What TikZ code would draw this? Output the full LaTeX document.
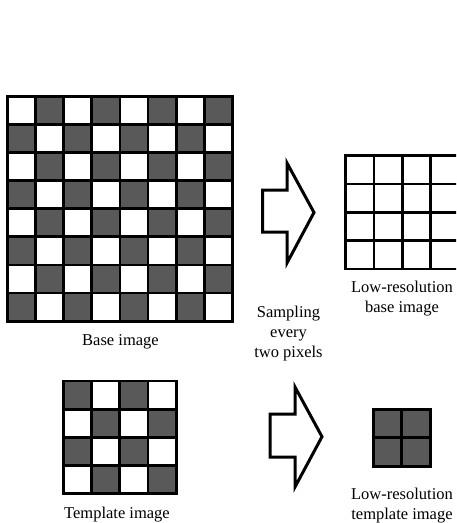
\documentclass[tikz,border=0pt]{standalone}
\usepackage{fontspec}
\setmainfont{Liberation Serif}
\definecolor{cellgray}{HTML}{595959}
\tikzset{
  gridline/.style={line width=2.8pt, line cap=rect},
  darkcell/.style={fill=cellgray},
  bigarrow/.style={draw=black, line width=3pt, fill=white, line join=miter},
  caption/.style={align=center, font=\fontsize{16.5}{20}\selectfont, inner sep=0pt}
}
\begin{document}
\begin{tikzpicture}[x=1pt,y=-1pt]
\useasboundingbox (0,0) rectangle (456,523);
\clip (0,0) rectangle (456,523);
\fill[white] (0,0) rectangle (456,523);
% base image 8x8, top-left white: dark where row+col is odd
\foreach \row in {0,...,7} {
  \foreach \col in {0,...,7} {
    \pgfmathtruncatemacro\cellsum{\row+\col}
    \ifodd\cellsum
      \fill[darkcell] (7.5+\col*28.1,96.3+\row*28.1) rectangle ++(28.1,28.1);
    \fi
  }
}
\foreach \k in {0,...,8} {
  \draw[gridline] (7.5+\k*28.1,96.3) -- ++(0,224.8);
  \draw[gridline] (7.5,96.3+\k*28.1) -- ++(224.8,0);
}
% low-resolution base image 4x4 white
\foreach \k in {0,...,4} {
  \draw[gridline] (345.7+\k*28.3,155.7) -- ++(0,113.2);
  \draw[gridline] (345.7,155.7+\k*28.3) -- ++(113.2,0);
}
% template image 4x4, top-left dark: dark where row+col is even
\foreach \row in {0,...,3} {
  \foreach \col in {0,...,3} {
    \pgfmathtruncatemacro\cellsum{\row+\col+1}
    \ifodd\cellsum
      \fill[darkcell] (63.3+\col*28.2,381+\row*28.2) rectangle ++(28.2,28.2);
    \fi
  }
}
\foreach \k in {0,...,4} {
  \draw[gridline] (63.3+\k*28.2,381) -- ++(0,112.8);
  \draw[gridline] (63.3,381+\k*28.2) -- ++(112.8,0);
}
% low-resolution template image 2x2 dark
\fill[darkcell] (373.3,409.3) rectangle (430.1,466.1);
\foreach \k in {0,...,2} {
  \draw[gridline] (373.3+\k*28.4,409.3) -- ++(0,56.8);
  \draw[gridline] (373.3,409.3+\k*28.4) -- ++(56.8,0);
}
% block arrows
\draw[bigarrow] (262.7,190) -- (287,190) -- (287,163) -- (314,212.5) -- (287,263) -- (287,232) -- (262.7,232) -- cycle;
\draw[bigarrow] (270,414) -- (295,414) -- (295,387) -- (322,436.7) -- (295,487) -- (295,457) -- (270,457) -- cycle;
% captions
\node[caption] (base) at (120.5,342) {Base image};
\node[caption] (sampling) at (288.5,334) {Sampling\\every\\two pixels};
\node[caption] (lowbase) at (402,299) {Low-resolution\\base image};
\node[caption] (template) at (117,515) {Template image};
\node[caption] (lowtemplate) at (402,506) {Low-resolution\\template image};
\end{tikzpicture}
\end{document}
